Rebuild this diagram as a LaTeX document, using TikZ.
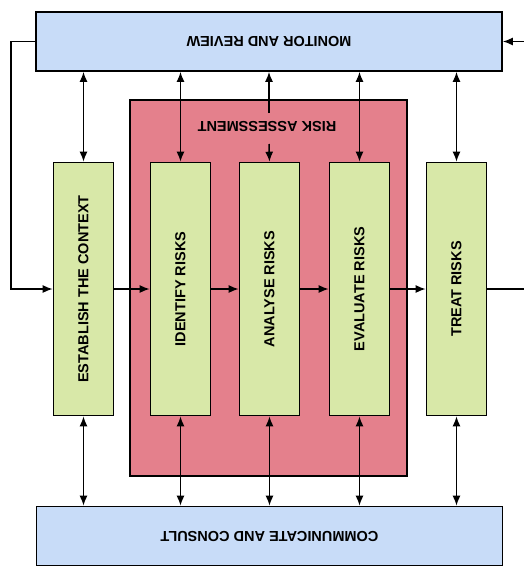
\documentclass[tikz,border=0pt]{standalone}
\usepackage{fontspec}
\usepackage{graphicx}
\setmainfont{Liberation Sans}
\usetikzlibrary{arrows.meta}
\definecolor{panelblue}{RGB}{200,220,248}
\definecolor{assessred}{RGB}{228,128,140}
\definecolor{stagegreen}{RGB}{216,232,168}
\tikzset{
  panel/.style={draw, line width=1.6pt, fill=panelblue, minimum width=466pt, minimum height=59pt, inner sep=0pt},
  stage/.style={draw, line width=1.6pt, fill=stagegreen, minimum width=60pt, minimum height=253pt, inner sep=0pt},
  flow/.style={line width=1.5pt, -{Latex[length=10pt,width=8pt]}},
  both/.style={line width=1.5pt, {Latex[length=10pt,width=8pt]}-{Latex[length=10pt,width=8pt]}}
}
\newcommand{\lbl}[1]{\fontsize{14.5}{17}\selectfont\bfseries #1}

\begin{document}
\begin{tikzpicture}[x=1pt, y=-1pt]
                        \useasboundingbox (0,0) rectangle (524,568);
                        \node[panel] (mon) at (269,41.5) {\rotatebox{180}{\lbl{MONITOR AND REVIEW}}};
                        \node[panel] (com) at (269.5,536) {\rotatebox{180}{\lbl{COMMUNICATE AND CONSULT}}};
                        \node[draw, line width=1.6pt, fill=assessred, minimum width=277pt, minimum height=376pt] (ra) at (268.5,288) {};
                        \node (ralbl) at (267,126.5) {\rotatebox{180}{\lbl{RISK ASSESSMENT}}};
                        \coordinate (ratop) at (269,113);
                        \coordinate (rabot) at (269,144);

                        \node[stage] (est) at (83.5,289) {\rotatebox{90}{\lbl{ESTABLISH THE CONTEXT}}};
                        \node[stage] (idf) at (180.5,289) {\rotatebox{90}{\lbl{IDENTIFY RISKS}}};
                        \node[stage] (ana) at (269.5,289) {\rotatebox{90}{\lbl{ANALYSE RISKS}}};
                        \node[stage] (eva) at (359.5,289) {\rotatebox{90}{\lbl{EVALUATE RISKS}}};
                        \node[stage] (trt) at (456.5,289) {\rotatebox{90}{\lbl{TREAT RISKS}}};

                        \path	[flow]	(est)	edge	(idf)
                        (idf)	edge	(ana)
                        (ana)	edge	(eva)
                        (eva)	edge	(trt);
                        \draw[flow] (mon.west) -- ++(-24,0) |- (est.west);
                        \draw[flow] (trt.east) -- ++(40,0) |- (mon.east);

                        \path	[both]	(est.north)	edge	(est.north |- mon.south)
                        (idf.north)	edge	(idf.north |- mon.south)
                        (eva.north)	edge	(eva.north |- mon.south)
                        (trt.north)	edge	(trt.north |- mon.south);
                        \draw[flow] (ratop) -- (ratop |- mon.south);
                        \draw[flow] (rabot) -- (ana.north);

                        \path	[both]	(est.south)	edge	(est.south |- com.north)
                        (idf.south)	edge	(idf.south |- com.north)
                        (ana.south)	edge	(ana.south |- com.north)
                        (eva.south)	edge	(eva.south |- com.north)
                        (trt.south)	edge	(trt.south |- com.north);
                    \end{tikzpicture}
\end{document}
